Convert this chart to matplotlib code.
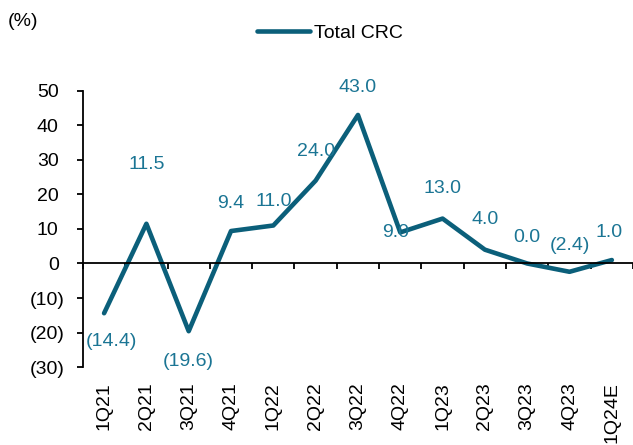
import matplotlib.pyplot as plt
from matplotlib.transforms import ScaledTranslation

plt.rcParams['font.family'] = ['Liberation Sans', 'DejaVu Sans']

quarters = ['1Q21', '2Q21', '3Q21', '4Q21', '1Q22', '2Q22', '3Q22',
            '4Q22', '1Q23', '2Q23', '3Q23', '4Q23', '1Q24E']
crc = [-14.4, 11.5, -19.6, 9.4, 11.0, 24.0, 43.0, 9.0, 13.0, 4.0, 0.0, -2.4, 1.0]

# label offsets in points (dx, dy), placed by hand like the original
label_off = [(5, -20), (0, 43), (0, -22), (0, 20), (0, 17), (0, 21), (0, 20),
             (-3, 0), (0, 22), (0, 22), (0, 19), (0, 19), (-2, 20)]

line_col = '#0b5f7a'
lab_col = '#1b7594'
fs = 14

def fmt(v):
    return '(%.1f)' % abs(v) if v < 0 else '%.1f' % v

fig = plt.figure(figsize=(6.33, 4.45), dpi=100)
ax = fig.add_axes([0.131, 0.175, 0.869, 0.621])

x = list(range(len(quarters)))
ax.plot(x, crc, color=line_col, lw=3.3, solid_capstyle='round', label='Total CRC')

for i, v in enumerate(crc):
    dx, dy = label_off[i]
    ax.annotate(fmt(v), (i, v), xytext=(dx, dy), textcoords='offset points',
                ha='center', va='center', color=lab_col, fontsize=fs)

ax.set_xlim(-0.5, len(quarters) - 0.5)
ax.set_ylim(-30, 50)
yt = list(range(-30, 51, 10))
ax.set_yticks(yt)
ax.set_yticklabels(['(%d)' % -t if t < 0 else '%d' % t for t in yt])
ax.tick_params(axis='y', direction='out', length=4.5, width=1.3, labelsize=fs, pad=9)
# excel-style format leaves room for ")" after positive numbers
shift = ScaledTranslation(-0.055, 0, fig.dpi_scale_trans)
for t, lab in zip(yt, ax.get_yticklabels()):
    if t >= 0:
        lab.set_transform(lab.get_transform() + shift)

for s in ['top', 'right']:
    ax.spines[s].set_visible(False)
ax.spines['left'].set_linewidth(1.3)
ax.spines['bottom'].set_position(('data', 0))
ax.spines['bottom'].set_linewidth(1.3)

ax.set_xticks([i - 0.5 for i in range(len(quarters) + 1)])
ax.set_xticklabels([])
ax.tick_params(axis='x', direction='out', length=4.5, width=1.3)

sec = ax.secondary_xaxis('bottom')
sec.set_xticks(x)
sec.set_xticklabels(quarters, rotation=90, fontsize=fs)
sec.tick_params(length=0, pad=11)
sec.spines['bottom'].set_visible(False)

fig.text(8 / 633, 1 - 22 / 445, '(%)', fontsize=fs, va='center')
fig.legend(loc='center', bbox_to_anchor=(0.521, 0.926), frameon=False,
           fontsize=fs, handlelength=2.7, handletextpad=0.2)

fig.savefig('out.png', dpi=100)
